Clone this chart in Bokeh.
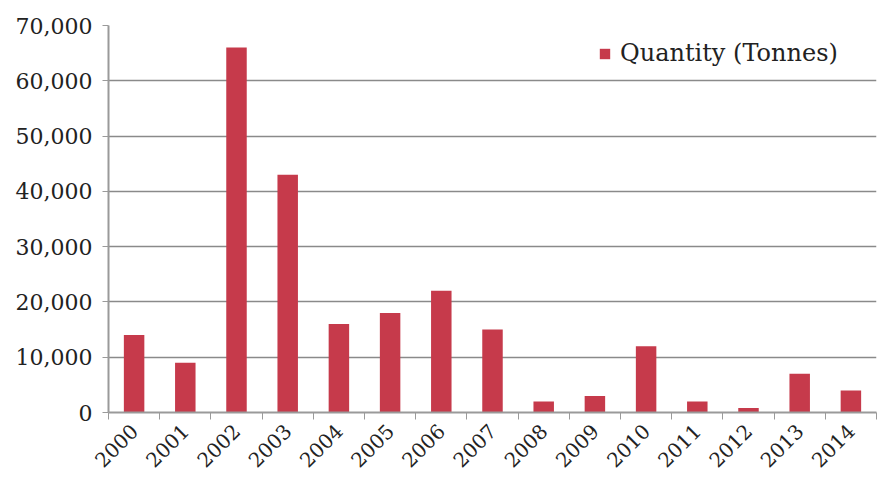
from bokeh.plotting import figure
from bokeh.models import ColumnDataSource, Range1d, FixedTicker, NumeralTickFormatter, Legend, LegendItem
from bokeh.embed import file_html
from bokeh.resources import INLINE
import math

years = ["2000", "2001", "2002", "2003", "2004", "2005", "2006", "2007",
         "2008", "2009", "2010", "2011", "2012", "2013", "2014"]
quantity = [14000, 9000, 66000, 43000, 16000, 18000, 22000, 15000,
            2000, 3000, 12000, 2000, 800, 7000, 4000]
y_ticks = [0, 10000, 20000, 30000, 40000, 50000, 60000, 70000]
series_name = "Quantity (Tonnes)"

xs = [i + 0.5 for i in range(len(years))]
src = ColumnDataSource(dict(x=xs, top=quantity, year=years))

FONT = "DejaVu Serif"
GRID = "#8a8a8a"
AXIS = "#9a9a9a"
BAR = "#c63a4b"

p = figure(width=880, height=477, output_backend="svg", toolbar_location=None,
           x_range=Range1d(0, len(years)), y_range=Range1d(0, 70000),
           min_border_left=108, min_border_right=4, min_border_top=25, min_border_bottom=65)
p.outline_line_color = None
p.background_fill_color = "white"
p.border_fill_color = "white"

r = p.vbar(x="x", top="top", width=0.4, bottom=0, source=src,
           fill_color=BAR, line_color=None)

# x axis: labels at category centres, tick marks between categories
p.xaxis.ticker = FixedTicker(ticks=xs, minor_ticks=list(range(len(years) + 1)))
p.xaxis.major_label_overrides = {x: y for x, y in zip(xs, years)}
p.xaxis.major_tick_line_color = None
p.xaxis.major_tick_out = 0
p.xaxis.major_tick_in = 0
p.xaxis.minor_tick_line_color = AXIS
p.xaxis.minor_tick_out = 7
p.xaxis.minor_tick_in = 0
p.xaxis.axis_line_color = AXIS
p.xaxis.axis_line_width = 2
p.xaxis.major_label_orientation = math.pi / 4
p.xaxis.major_label_text_font = FONT
p.xaxis.major_label_text_font_size = "20px"
p.xaxis.major_label_text_color = "#222222"
p.xaxis.major_label_standoff = 8

# y axis
p.yaxis.ticker = FixedTicker(ticks=y_ticks)
p.yaxis.formatter = NumeralTickFormatter(format="0,0")
p.yaxis.axis_line_color = AXIS
p.yaxis.axis_line_width = 2
p.yaxis.major_tick_line_color = AXIS
p.yaxis.major_tick_out = 6
p.yaxis.major_tick_in = 0
p.yaxis.minor_tick_line_color = None
p.yaxis.major_label_text_font = FONT
p.yaxis.major_label_text_font_size = "22px"
p.yaxis.major_label_text_color = "#222222"
p.yaxis.major_label_standoff = 10

p.xgrid.grid_line_color = None
p.ygrid.grid_line_color = GRID
p.ygrid.grid_line_width = 1.5

legend = Legend(items=[LegendItem(label=series_name, renderers=[r])],
                location=(490, 345), margin=0, padding=4,
                border_line_color=None, background_fill_alpha=0,
                label_text_font=FONT, label_text_font_size="24px",
                label_text_color="#222222",
                glyph_width=13, glyph_height=13, label_standoff=9)
p.add_layout(legend)

open("out.html", "w").write(file_html(p, INLINE))
